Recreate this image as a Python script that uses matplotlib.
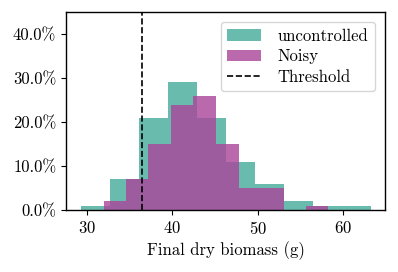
""" Final dry biomass histogram, uncontrolled vs noisy
"""

import matplotlib
matplotlib.use('Agg')
import matplotlib.pyplot as plt
from matplotlib.ticker import PercentFormatter

# bin edges (g) and share of runs (%)
uncontrolled_edges = [29.3, 32.7, 36.1, 39.5, 42.9, 46.3, 49.7, 53.1, 56.5, 59.9, 63.3]
uncontrolled_pct = [1, 7, 21, 29, 21, 11, 6, 2, 1, 1]

noisy_edges = [32.0, 34.6, 37.2, 39.9, 42.5, 45.2, 47.8, 50.4, 53.1, 55.7, 58.3]
noisy_pct = [2, 7, 15, 24, 26, 15, 5, 5, 0, 1]

threshold = 36.5

plt.rcParams['font.family'] = 'serif'
plt.rcParams['font.serif'] = ['cmr10']
plt.rcParams['mathtext.fontset'] = 'cm'
plt.rcParams['axes.formatter.use_mathtext'] = True
plt.rcParams['font.size'] = 12


def plot_biomass():
    fig = plt.figure(figsize=(3.98, 2.72), dpi=100)
    ax = fig.add_axes([0.166, 0.227, 0.801, 0.729])

    ax.hist(uncontrolled_edges[:-1], bins=uncontrolled_edges,
            weights=[p / 100 for p in uncontrolled_pct],
            color='#44AA99', alpha=0.8, label='uncontrolled')
    ax.hist(noisy_edges[:-1], bins=noisy_edges,
            weights=[p / 100 for p in noisy_pct],
            color='#AA4499', alpha=0.8, label='Noisy')
    ax.axvline(threshold, color='black', linestyle='--', linewidth=1.2,
               label='Threshold')

    ax.set_xlim(27.6, 64.9)
    ax.set_ylim(0, 0.45)
    ax.set_yticks([0, 0.1, 0.2, 0.3, 0.4])
    ax.set_xticks([30, 40, 50, 60])
    ax.yaxis.set_major_formatter(PercentFormatter(1.0, decimals=1))
    ax.set_xlabel('Final dry biomass (g)', labelpad=3)
    ax.tick_params(direction='out', length=3.5, width=0.8)
    for sp in ax.spines.values():
        sp.set_linewidth(1.0)

    ax.legend(loc='upper right', fancybox=True, framealpha=0.8,
              edgecolor='#cccccc', labelspacing=0.3, handletextpad=1.0,
              borderaxespad=0.6)
    fig.savefig('out.png', dpi=100)


if __name__ == '__main__':
    plot_biomass()
